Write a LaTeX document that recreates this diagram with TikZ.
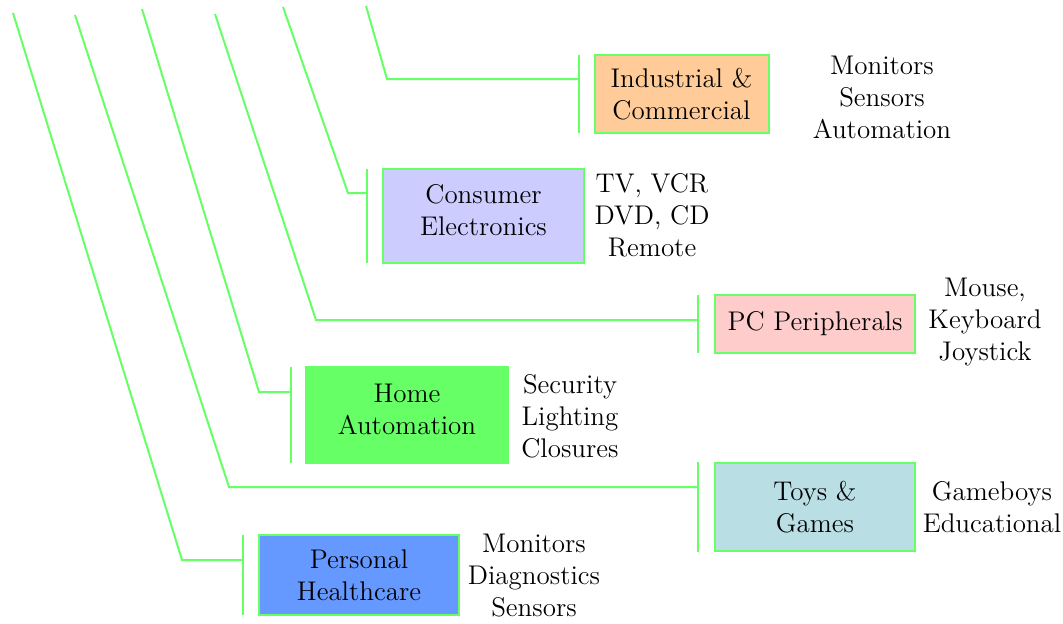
\documentclass[tikz,border=0pt]{standalone}
\definecolor{linkgreen}{HTML}{66FF66}
\definecolor{peach}{HTML}{FFCC99}
\definecolor{lavender}{HTML}{CCCCFF}
\definecolor{pinkish}{HTML}{FFCCCC}
\definecolor{homegreen}{HTML}{66FF66}
\definecolor{paleteal}{HTML}{B9DFE4}
\definecolor{healthblue}{HTML}{6699FF}
\begin{document}
\begin{tikzpicture}[x=0.5pt,y=-0.5pt,
  font=\fontsize{13.5}{16}\selectfont,
  link/.style={draw=linkgreen,line width=1pt},
  market/.style={draw=linkgreen,line width=1pt,inner sep=0pt,align=center,
    minimum width=#1},
  examples/.style={align=center,inner sep=0pt}]
\useasboundingbox (0,0) rectangle (1063,623);

% market boxes
\node[market=87pt,minimum height=39pt,fill=peach] (ind) at (681.5,94) {Industrial \&\\Commercial};
\node[market=100.5pt,minimum height=47pt,fill=lavender] (con) at (483.5,216) {Consumer\\Electronics\\[-10pt]};
\node[market=100pt,minimum height=29pt,fill=pinkish] (pc) at (815,324) {PC Peripherals};
\node[market=101pt,minimum height=48pt,fill=homegreen] (home) at (407,415) {Home\\Automation\\[-10pt]};
\node[market=100pt,minimum height=44pt,fill=paleteal] (toys) at (815,507) {Toys \&\\Games};
\node[market=100pt,minimum height=40pt,fill=healthblue] (health) at (359,575) {Personal\\Healthcare};

% example lists
\node[examples] (indx) at (882,97) {Monitors\\Sensors\\Automation};
\node[examples] (conx) at (652,215) {TV, VCR\\DVD, CD\\Remote};
\node[examples] (pcx) at (985,322) {Mouse,\\Keyboard\\Joystick};
\node[examples] (homex) at (570,416) {Security\\Lighting\\Closures};
\node[examples] (toysx) at (992,507) {Gameboys\\Educational};
\node[examples] (healthx) at (534,576) {Monitors\\Diagnostics\\Sensors};

% top ends of the slanted branches
\coordinate (t1) at (13,13);
\coordinate (t2) at (75,15);
\coordinate (t3) at (142,9);
\coordinate (t4) at (215,14);
\coordinate (t5) at (283,7);
\coordinate (t6) at (366,6);

% bends
\coordinate (k1) at (182,560);
\coordinate (k2) at (229,487);
\coordinate (k3) at (259,392);
\coordinate (k4) at (316,320);
\coordinate (k5) at (348,193);
\coordinate (k6) at (387,79);

% vertical brackets in front of the boxes
\coordinate (b1a) at (243,535); \coordinate (b1b) at (243,615);
\coordinate (b2a) at (698,462); \coordinate (b2b) at (698,552);
\coordinate (b3a) at (291,367); \coordinate (b3b) at (291,463);
\coordinate (b4a) at (698,295); \coordinate (b4b) at (698,353);
\coordinate (b5a) at (367,169); \coordinate (b5b) at (367,263);
\coordinate (b6a) at (579,55);  \coordinate (b6b) at (579,133);

\draw[link] (b1a) -- (b1b);
\draw[link] (b2a) -- (b2b);
\draw[link] (b3a) -- (b3b);
\draw[link] (b4a) -- (b4b);
\draw[link] (b5a) -- (b5b);
\draw[link] (b6a) -- (b6b);

\draw[link] (t1) -- (k1) -- (k1 -| b1a);
\draw[link] (t2) -- (k2) -- (k2 -| b2a);
\draw[link] (t3) -- (k3) -- (k3 -| b3a);
\draw[link] (t4) -- (k4) -- (k4 -| b4a);
\draw[link] (t5) -- (k5) -- (k5 -| b5a);
\draw[link] (t6) -- (k6) -- (k6 -| b6a);
\end{tikzpicture}
\end{document}
